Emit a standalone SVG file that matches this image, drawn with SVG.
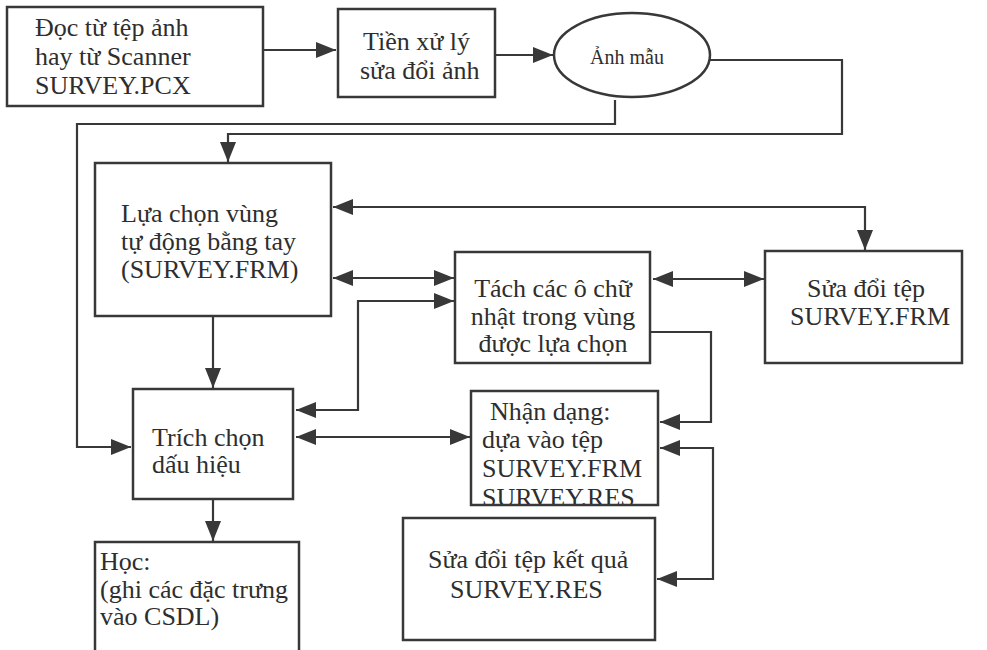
<svg xmlns="http://www.w3.org/2000/svg" width="987" height="650" viewBox="0 0 987 650">
<style>
.box{fill:none;stroke:#383838;stroke-width:2.5}
.t{font-family:"Liberation Serif","Times New Roman",serif;font-size:26px;fill:#2e2e2e}
.s{font-size:20px}
.m{text-anchor:middle}
.c{fill:none;stroke:#383838;stroke-width:2.2}
.a{marker-end:url(#ah)}
.b{marker-start:url(#ah);marker-end:url(#ah)}
</style>
<defs>
<marker id="ah" markerUnits="userSpaceOnUse" markerWidth="22" markerHeight="18" refX="20" refY="9" orient="auto-start-reverse" viewBox="0 0 22 18">
<path d="M0,1 L20,9 L0,17 Z" fill="#383838"/>
</marker>
<clipPath id="clipN"><rect x="471" y="391" width="187" height="113"/></clipPath>
</defs>
<rect width="987" height="650" fill="#fff"/>
<g id="connectors">
<path class="c a" d="M263,50 H336"/>
<path class="c a" d="M495,55 H553"/>
<path class="c a" d="M710,60 H842 V134 H228 V162"/>
<path class="c a" d="M615,100 V124 H77 V447 H131"/>
<path class="c b" d="M333,207 H865 V250"/>
<path class="c b" d="M333,278 H454"/>
<path class="c b" d="M296,410 H358 V301 H454"/>
<path class="c b" d="M653,279 H764"/>
<path class="c a" d="M650,332 H711 V422 H660"/>
<path class="c a" d="M213,316 V388"/>
<path class="c b" d="M296,437 H470"/>
<path class="c a" d="M213,499 V541"/>
<path class="c b" d="M660,448 H713 V579 H657"/>
</g>
<g id="n1">
<rect class="box" x="7" y="7" width="256" height="99"/>
<text class="t" x="35" y="36">Đọc từ tệp ảnh</text>
<text class="t" x="35" y="65">hay từ Scanner</text>
<text class="t" x="35" y="94">SURVEY.PCX</text>
</g>
<g id="n2">
<rect class="box" x="338" y="9" width="157" height="88"/>
<text class="t" x="363" y="50">Tiền xử lý</text>
<text class="t" x="360" y="79">sửa đổi ảnh</text>
</g>
<g id="n3">
<ellipse class="box" cx="632" cy="55" rx="78" ry="42"/>
<text class="t s" x="590" y="64">Ảnh mẫu</text>
</g>
<g id="n4">
<rect class="box" x="95" y="163" width="236" height="153"/>
<text class="t" x="121" y="222">Lựa chọn vùng</text>
<text class="t" x="121" y="250">tự động bằng tay</text>
<text class="t" x="121" y="278">(SURVEY.FRM)</text>
</g>
<g id="n5">
<rect class="box" x="455" y="252" width="195" height="111"/>
<text class="t m" x="553" y="297">Tách các ô chữ</text>
<text class="t m" x="553" y="325">nhật trong vùng</text>
<text class="t m" x="553" y="352">được lựa chọn</text>
</g>
<g id="n6">
<rect class="box" x="765" y="251" width="197" height="112"/>
<text class="t" x="807" y="297">Sửa đổi tệp</text>
<text class="t" x="790" y="325">SURVEY.FRM</text>
</g>
<g id="n7">
<rect class="box" x="133" y="389" width="160" height="110"/>
<text class="t" x="152" y="446">Trích chọn</text>
<text class="t" x="152" y="473">dấu hiệu</text>
</g>
<g id="n8">
<rect class="box" x="471" y="391" width="187" height="114"/>
<g clip-path="url(#clipN)">
<text class="t" x="490" y="420">Nhận dạng:</text>
<text class="t" x="482" y="448">dựa vào tệp</text>
<text class="t" x="482" y="477">SURVEY.FRM</text>
<text class="t" x="482" y="506">SURVEY.RES</text>
</g>
</g>
<g id="n9">
<rect class="box" x="403" y="518" width="252" height="122"/>
<text class="t" x="428" y="568">Sửa đổi tệp kết quả</text>
<text class="t" x="450" y="598">SURVEY.RES</text>
</g>
<g id="n10">
<rect class="box" x="95" y="542" width="204" height="120"/>
<text class="t" x="100" y="570">Học:</text>
<text class="t" x="100" y="598">(ghi các đặc trưng</text>
<text class="t" x="100" y="625">vào CSDL)</text>
</g>
</svg>
